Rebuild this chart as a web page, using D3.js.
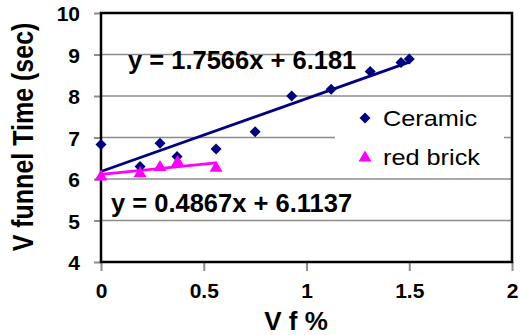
<!DOCTYPE html>
<html>
<head>
<meta charset="utf-8">
<script src="https://cdn.jsdelivr.net/npm/d3@7"></script>
<style>
  html, body { margin: 0; padding: 0; background: #fff; }
  svg { display: block; font-family: Arial, "Liberation Sans", sans-serif; }
</style>
</head>
<body>
<svg id="chart" width="520" height="335"></svg>
<script>
// V-funnel flow time against fibre volume fraction
const ceramicVf   = [0, 0.19, 0.287, 0.37, 0.56, 0.75, 0.928, 1.12, 1.31, 1.46, 1.50];
const ceramicTime = [6.83, 6.30, 6.86, 6.54, 6.72, 7.14, 8.00, 8.16, 8.59, 8.81, 8.89];
const brickVf     = [0, 0.19, 0.287, 0.373, 0.56];
const brickTime   = [6.07, 6.15, 6.30, 6.42, 6.28];

// Linear trend lines (slope, intercept) as labelled on the chart
const ceramicFit = [1.7566, 6.181];
const brickFit   = [0.4867, 6.1137];

const xTicks = [0, 0.5, 1, 1.5, 2];
const yTicks = [4, 5, 6, 7, 8, 9, 10];
const xTickLabels = ["0", "0.5", "1", "1.5", "2"];
const seriesNames = ["Ceramic", "red brick"];

const svg = d3.select("#chart");
const x = d3.scaleLinear().domain([0, 2]).range([101, 512]);
const y = d3.scaleLinear().domain([4, 10]).range([262, 13]);

const navy = "#000080", pink = "#ff00ff", grid = "#8c8c8c";

// horizontal gridlines
svg.append("g").selectAll("line")
  .data(yTicks.filter(v => v > 4 && v < 10))
  .join("line")
  .attr("x1", x(0)).attr("x2", x(2))
  .attr("y1", d => y(d)).attr("y2", d => y(d))
  .attr("stroke", grid).attr("stroke-width", 1.5);

// axes
const yAxis = d3.axisLeft(y).tickValues(yTicks).tickSize(7).tickFormat(d3.format("d"));
const xAxis = d3.axisBottom(x).tickValues(xTicks).tickSize(9).tickFormat((d, i) => xTickLabels[i]);

const gy = svg.append("g").attr("transform", `translate(${x(0)},0)`).call(yAxis);
const gx = svg.append("g").attr("transform", `translate(0,${y(4)})`).call(xAxis);
[gy, gx].forEach(g => {
  g.select(".domain").remove();
  g.selectAll(".tick line").attr("stroke", grid).attr("stroke-width", 2);
  g.selectAll(".tick text")
    .attr("fill", "#000").attr("font-size", 21).attr("font-weight", "bold")
    .attr("font-family", "Arial, 'Liberation Sans', sans-serif");
});
gy.selectAll(".tick text").attr("x", -21).attr("dy", "0.36em");
gx.selectAll(".tick text").attr("y", 28).attr("dy", "0.36em");

// plot frame
svg.append("rect")
  .attr("x", x(0)).attr("y", y(10))
  .attr("width", x(2) - x(0)).attr("height", y(4) - y(10))
  .attr("fill", "none").attr("stroke", "#000").attr("stroke-width", 2.5);

// legend box (drawn before the marks so it hides the gridline behind it)
const legend = svg.append("g");
legend.append("rect")
  .attr("x", 335).attr("y", 103).attr("width", 169).attr("height", 70)
  .attr("fill", "#fff");

// trend lines
const line = d3.line().x(d => x(d[0])).y(d => y(d[1]));
function trend(fit, xs) {
  const xmax = d3.max(xs);
  return [[0, fit[1]], [xmax, fit[0] * xmax + fit[1]]];
}
svg.append("path").attr("d", line(trend(ceramicFit, ceramicVf)))
  .attr("stroke", navy).attr("stroke-width", 2.8).attr("fill", "none");
svg.append("path").attr("d", line(trend(brickFit, brickVf)))
  .attr("stroke", pink).attr("stroke-width", 2.8).attr("fill", "none");

// markers
function diamondPath(r) { return `M0,${-r}L${r},0L0,${r}L${-r},0Z`; }
function trianglePath(w, h) { return `M0,${-h * 0.6}L${w / 2},${h * 0.4}L${-w / 2},${h * 0.4}Z`; }

svg.append("g").selectAll("path")
  .data(ceramicVf.map((v, i) => [v, ceramicTime[i]]))
  .join("path")
  .attr("d", diamondPath(5.5))
  .attr("transform", d => `translate(${x(d[0])},${y(d[1])})`)
  .attr("fill", navy);

svg.append("g").selectAll("path")
  .data(brickVf.map((v, i) => [v, brickTime[i]]))
  .join("path")
  .attr("d", trianglePath(13, 11))
  .attr("transform", d => `translate(${x(d[0])},${y(d[1])})`)
  .attr("fill", pink);

// legend entries
legend.append("path").attr("d", diamondPath(5.5))
  .attr("transform", "translate(365,118)").attr("fill", navy);
legend.append("path").attr("d", trianglePath(13, 11))
  .attr("transform", "translate(365,157)").attr("fill", pink);
legend.selectAll("text").data(seriesNames).join("text")
  .attr("transform", (d, i) => `translate(383,${126 + i * 39}) scale(1.15,1)`)
  .attr("font-size", 22).attr("fill", "#000")
  .text(d => d);

// trend line equations
const fmt = f => `y = ${f[0]}x + ${f[1]}`;
svg.append("text").attr("x", 128).attr("y", 69)
  .attr("font-size", 25.5).attr("font-weight", "bold").text(fmt(ceramicFit));
svg.append("text").attr("x", 111).attr("y", 212)
  .attr("font-size", 25.5).attr("font-weight", "bold").text(fmt(brickFit));

// axis titles
svg.append("text")
  .attr("transform", `translate(33,137) rotate(-90) scale(1,1.15)`)
  .attr("text-anchor", "middle")
  .attr("font-size", 25).attr("font-weight", "bold")
  .text("V funnel Time (sec)");
svg.append("text")
  .attr("x", 296).attr("y", 330)
  .attr("text-anchor", "middle")
  .attr("font-size", 26).attr("font-weight", "bold")
  .text("V f %");
</script>
</body>
</html>
